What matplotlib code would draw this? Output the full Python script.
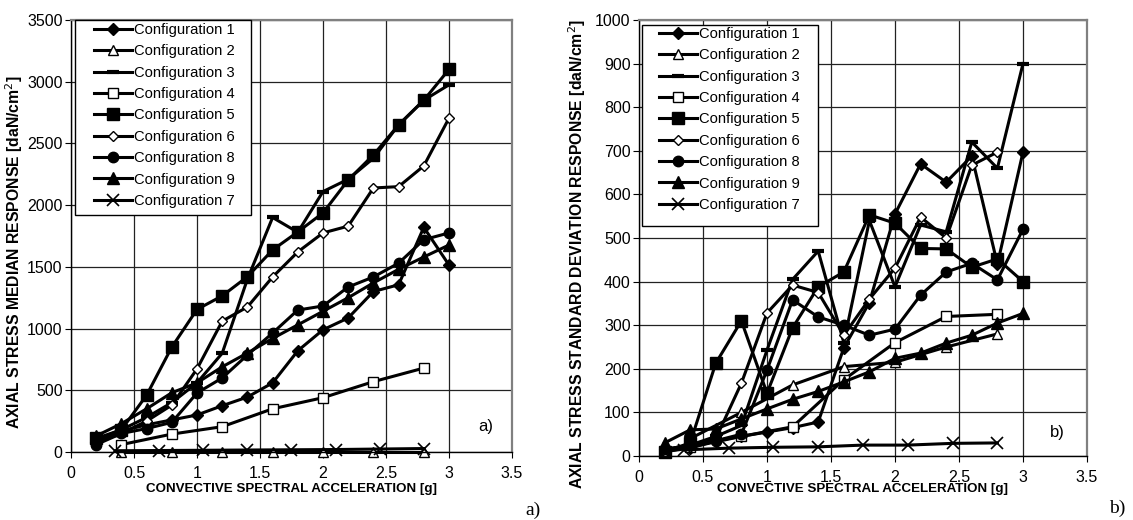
import matplotlib
matplotlib.use('Agg')
import matplotlib.pyplot as plt
from matplotlib.patches import Rectangle
from matplotlib.ticker import MultipleLocator, FormatStrFormatter

plt.rcParams['font.family'] = ['Liberation Sans', 'DejaVu Sans']

# x positions used by the series
x_all = [0.2, 0.4, 0.6, 0.8, 1.0, 1.2, 1.4, 1.6, 1.8, 2.0, 2.2, 2.4, 2.6, 2.8, 3.0]
x_04 = [0.4, 0.8, 1.2, 1.6, 2.0, 2.4, 2.8]
x_cfg7 = [0.35, 0.7, 1.05, 1.4, 1.75, 2.1, 2.45, 2.8]
x_cfg6_std = x_all[:14]

# a) median response [daN/cm2]
cfg1_med = [90, 170, 220, 260, 300, 375, 445, 560, 820, 990, 1086, 1300, 1355, 1820, 1515]
cfg2_med = [0, 0, 0, 0, 0, 0, 0]
cfg3_med = [100, 180, 280, 400, 560, 800, 1400, 1900, 1780, 2110, 2210, 2380, 2650, 2850, 2975]
cfg4_med = [60, 145, 205, 350, 440, 570, 680]
cfg5_med = [110, 180, 460, 850, 1155, 1265, 1420, 1637, 1783, 1937, 2204, 2407, 2650, 2850, 3100]
cfg6_med = [80, 150, 250, 380, 673, 1060, 1175, 1418, 1621, 1775, 1830, 2139, 2150, 2318, 2705]
cfg8_med = [60, 150, 190, 240, 478, 600, 786, 964, 1150, 1183, 1337, 1418, 1530, 1720, 1775]
cfg9_med = [130, 230, 350, 480, 560, 690, 802, 920, 1030, 1140, 1250, 1370, 1480, 1580, 1677]
cfg7_med = [10, 12, 14, 16, 18, 20, 24, 28]

# b) standard deviation response [daN/cm2]
cfg1_std = [10, 18, 35, 45, 55, 65, 78, 248, 352, 555, 670, 628, 688, 440, 697]
cfg2_std = [40, 100, 163, 205, 215, 250, 280]
cfg3_std = [15, 25, 45, 70, 243, 405, 470, 260, 540, 388, 530, 514, 720, 660, 900]
cfg4_std = [20, 45, 67, 175, 260, 320, 325]
cfg5_std = [10, 30, 213, 310, 144, 294, 388, 422, 553, 534, 476, 475, 433, 452, 400]
cfg6_std = [10, 20, 40, 167, 328, 392, 375, 277, 360, 431, 548, 500, 667, 697]
cfg8_std = [15, 25, 35, 50, 197, 358, 319, 300, 277, 291, 369, 422, 442, 404, 520]
cfg9_std = [30, 60, 62, 85, 108, 130, 148, 170, 193, 224, 236, 259, 277, 305, 327]
cfg7_std = [14, 18, 20, 21, 25, 25, 29, 30]

labels = ['Configuration 1', 'Configuration 2', 'Configuration 3', 'Configuration 4',
          'Configuration 5', 'Configuration 6', 'Configuration 8', 'Configuration 9',
          'Configuration 7']

styles = [
    dict(marker='D', ms=6, mfc='black', mec='black'),
    dict(marker='^', ms=7, mfc='white', mec='black', mew=1),
    dict(marker='_', ms=9, mec='black', mew=3),
    dict(marker='s', ms=7, mfc='white', mec='black', mew=1),
    dict(marker='s', ms=8, mfc='black', mec='black'),
    dict(marker='D', ms=5, mfc='white', mec='black', mew=1),
    dict(marker='o', ms=7.5, mfc='black', mec='black'),
    dict(marker='^', ms=8, mfc='black', mec='black'),
    dict(marker='x', ms=8, mec='black', mew=1.2),
]


def panel(ax, series, ymax, ystep, ylabel, tag, tagpos, legpos, box):
    for (xs, ys), lab, st in zip(series, labels, styles):
        ax.plot(xs, ys, color='black', lw=2.2, label=lab, clip_on=False, **st)
    ax.set_xlim(0, 3.5)
    ax.set_ylim(0, ymax)
    ax.xaxis.set_major_locator(MultipleLocator(0.5))
    ax.yaxis.set_major_locator(MultipleLocator(ystep))
    ax.xaxis.set_major_formatter(FormatStrFormatter('%g'))
    ax.grid(True, color='#222222', lw=0.9)
    ax.set_axisbelow(True)
    for s in ['top', 'right']:
        ax.spines[s].set_color('#808080')
        ax.spines[s].set_linewidth(1.6)
    for s in ['left', 'bottom']:
        ax.spines[s].set_color('black')
        ax.spines[s].set_linewidth(1.0)
    ax.tick_params(axis='both', direction='out', length=4, labelsize=11.5)
    ax.tick_params(axis='x', pad=6)
    ax.tick_params(axis='y', pad=2)
    ax.set_xlabel('CONVECTIVE SPECTRAL ACCELERATION [g]', fontsize=9.6, fontweight='bold')
    ax.set_ylabel(ylabel, fontsize=11.3, fontweight='bold')
    ax.text(tagpos[0], tagpos[1], tag, fontsize=12, ha='center', va='center')
    # legend frame drawn by hand so its padding matches
    ax.add_patch(Rectangle((box[0], box[1]), box[2], box[3], transform=ax.transAxes,
                           facecolor='white', edgecolor='black', lw=1.0,
                           zorder=15, clip_on=False))
    leg = ax.legend(loc='upper left', bbox_to_anchor=legpos, borderaxespad=0,
                    fontsize=10.6, frameon=False, handlelength=2.6,
                    handletextpad=0.1, labelspacing=0.5, borderpad=0)
    leg.set_zorder(20)


fig = plt.figure(figsize=(11.33, 5.2), dpi=100)
ax1 = fig.add_axes([71 / 1133, 1 - 452 / 520, 441 / 1133, 432 / 520])
ax2 = fig.add_axes([639 / 1133, 1 - 456 / 520, 448 / 1133, 436 / 520])

panel(ax1,
      [(x_all, cfg1_med), (x_04, cfg2_med), (x_all, cfg3_med), (x_04, cfg4_med),
       (x_all, cfg5_med), (x_all, cfg6_med), (x_all, cfg8_med), (x_all, cfg9_med),
       (x_cfg7, cfg7_med)],
      3500, 500, 'AXIAL STRESS MEDIAN RESPONSE [daN/cm$^2$]', 'a)', (3.29, 203),
      (0.052, 0.993), (0.009, 0.5486, 0.399, 0.4514))
panel(ax2,
      [(x_all, cfg1_std), (x_04, cfg2_std), (x_all, cfg3_std), (x_04, cfg4_std),
       (x_all, cfg5_std), (x_cfg6_std, cfg6_std), (x_all, cfg8_std), (x_all, cfg9_std),
       (x_cfg7, cfg7_std)],
      1000, 100, 'AXIAL STRESS STANDARD DEVIATION RESPONSE [daN/cm$^2$]', 'b)', (3.27, 55),
      (0.045, 0.984), (0.0067, 0.5275, 0.393, 0.461))

ax1.xaxis.set_label_coords(0.5, -0.072)
ax2.xaxis.set_label_coords(0.498, -0.062)
ax1.yaxis.set_label_coords(-0.104, 0.463)
ax2.yaxis.set_label_coords(-0.114, 0.463)

fig.text(533 / 1133, 1 - 510 / 520, 'a)', family='Liberation Serif', fontsize=14,
         ha='center', va='center')
fig.text(1117 / 1133, 1 - 508 / 520, 'b)', family='Liberation Serif', fontsize=14,
         ha='center', va='center')

fig.savefig('out.png', dpi=100)
